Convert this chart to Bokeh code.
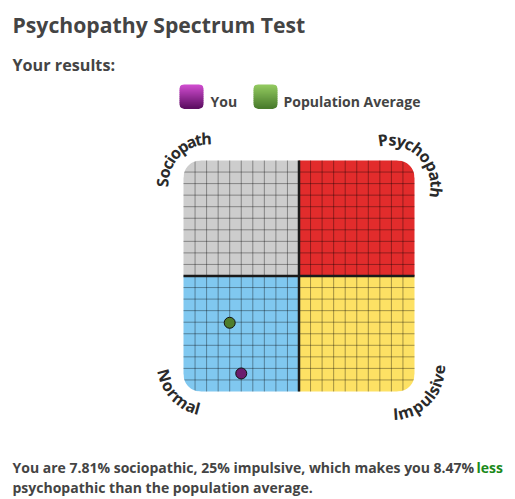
import math
from bokeh.plotting import figure
from bokeh.models import Range1d
from bokeh.core.properties import value
from bokeh.embed import file_html
from bokeh.resources import INLINE

# ---------------- data ----------------
title_text = "Psychopathy Spectrum Test"
subtitle_text = "Your results:"
quadrant_labels = ["Sociopath", "Psychopath", "Normal", "Impulsive"]
quadrant_colors = ["#cdcdcd", "#e22c2c", "#80c8f0", "#fde164"]
series_names = ["You", "Population Average"]
series_colors = ["#6b1d6e", "#4f7d2c"]
legend_top_colors = [(205, 75, 205), (145, 200, 95)]
legend_bottom_colors = [(95, 15, 100), (75, 125, 45)]
impulsive_pct = [25.0, 20.0]
sociopathic_pct = [7.81, 29.75]
less_pct = 8.47
axis_min, axis_mid, axis_max = 0, 50, 100
cells_per_half = 10

# ---------------- layout ----------------
W, H = 514, 498
PAGE_X0, PAGE_Y0 = 0, 0
PX = 2.31            # pixels per percent
OX, OY = 183, 391    # page position of (0, 0)
FONT = value("Open Sans")


def dx(px):
    return (px - OX) / PX


def dy(py):
    return (OY - py) / PX


p = figure(width=W, height=H,
           x_range=Range1d(dx(PAGE_X0), dx(PAGE_X0 + W)),
           y_range=Range1d(dy(PAGE_Y0 + H), dy(PAGE_Y0)),
           output_backend="svg", toolbar_location=None,
           x_axis_location=None, y_axis_location=None,
           min_border=0, outline_line_color=None)
p.grid.visible = False
p.background_fill_color = "white"
p.border_fill_color = "white"


def corner_mask(cx0, cy0, sx, sy, rc, e):
    ax, ay = cx0 - sx * rc, cy0 - sy * rc
    t1 = 0.0 if sx > 0 else math.pi
    t2 = math.pi / 2 if sy > 0 else -math.pi / 2
    if t2 - t1 > math.pi:
        t2 -= 2 * math.pi
    if t2 - t1 < -math.pi:
        t2 += 2 * math.pi
    xs = [cx0 + sx * e]
    ys = [ay]
    n = 24
    for k in range(n + 1):
        t = t1 + (t2 - t1) * k / n
        xs.append(ax + rc * math.cos(t))
        ys.append(ay + rc * math.sin(t))
    xs += [ax, cx0 + sx * e]
    ys += [cy0 + sy * e, cy0 + sy * e]
    return xs, ys


# quadrants
left = [axis_min, axis_mid, axis_min, axis_mid]
right = [axis_mid, axis_max, axis_mid, axis_max]
bottom = [axis_mid, axis_mid, axis_min, axis_min]
top = [axis_max, axis_max, axis_mid, axis_mid]
p.quad(left=left, right=right, bottom=bottom, top=top,
       fill_color=quadrant_colors, line_color=None)

# grid
step = (axis_mid - axis_min) / cells_per_half
ticks = [axis_min + step * i for i in range(1, 2 * cells_per_half) if i != cells_per_half]
p.multi_line(xs=[[t, t] for t in ticks], ys=[[axis_min, axis_max] for t in ticks],
             line_color="black", line_alpha=0.36, line_width=1)
p.multi_line(xs=[[axis_min, axis_max] for t in ticks], ys=[[t, t] for t in ticks],
             line_color="black", line_alpha=0.36, line_width=1)
p.multi_line(xs=[[axis_mid, axis_mid], [axis_min, axis_max]],
             ys=[[axis_min, axis_max], [axis_mid, axis_mid]],
             line_color="#1a1a1a", line_width=2.5)

# rounded outer corners
rc = 17 / PX
mxs, mys = [], []
for (cx0, cy0, sx, sy) in [(axis_min, axis_max, -1, 1), (axis_max, axis_max, 1, 1),
                           (axis_min, axis_min, -1, -1), (axis_max, axis_min, 1, -1)]:
    a, b = corner_mask(cx0, cy0, sx, sy, rc, 1.5 / PX)
    mxs.append(a)
    mys.append(b)
p.patches(xs=mxs, ys=mys, fill_color="white", line_color=None)

# points
p.scatter(x=impulsive_pct[::-1], y=sociopathic_pct[::-1], size=11,
          fill_color=series_colors[::-1], line_color="#111111", line_width=1)

# ---------------- texts ----------------
def txt(x, y, s, size, color="#444444", style="bold", align="left", baseline="alphabetic"):
    p.text(x=[dx(x)], y=[dy(y)], text=[s], text_font=FONT, text_font_size=size,
           text_font_style=style, text_color=color, text_align=align,
           text_baseline=baseline)


txt(12, 24, title_text, "21.2px")
txt(12, 64, subtitle_text, "16.2px")

# legend
leg_x = [179, 253]
leg_text_x = [210, 283]
sq = 24
nb = 12
for i, name in enumerate(series_names):
    c0, c1 = legend_top_colors[i], legend_bottom_colors[i]
    bl, br, bt, bb, cols = [], [], [], [], []
    for k in range(nb):
        f = k / (nb - 1)
        col = tuple(int(round(c0[j] + (c1[j] - c0[j]) * f)) for j in range(3))
        cols.append("#%02x%02x%02x" % col)
        bl.append(dx(leg_x[i]))
        br.append(dx(leg_x[i] + sq))
        bt.append(dy(84 + k * sq / nb))
        bb.append(dy(84 + (k + 1) * sq / nb + 0.4))
    p.quad(left=bl, right=br, top=bt, bottom=bb, fill_color=cols, line_color=None)
    lx, rx, ty, by = dx(leg_x[i]), dx(leg_x[i] + sq), dy(84), dy(84 + sq)
    mxs, mys = [], []
    for (cx0, cy0, sx, sy) in [(lx, ty, -1, 1), (rx, ty, 1, 1), (lx, by, -1, -1), (rx, by, 1, -1)]:
        a, b = corner_mask(cx0, cy0, sx, sy, 4 / PX, 1 / PX)
        mxs.append(a)
        mys.append(b)
    p.patches(xs=mxs, ys=mys, fill_color="white", line_color=None)
    txt(leg_text_x[i], 101, name, "14px")

# curved quadrant labels
CW = {"S": 1096, "o": 1237, "c": 975, "i": 518, "p": 1255, "a": 1139, "t": 723,
      "h": 1257, "P": 1235, "s": 977, "y": 1028, "N": 1567, "r": 836, "m": 1905,
      "l": 518, "I": 586, "u": 1257, "v": 1026, "e": 1149}
arc_specs = [  # page centre x, y, radius px, first angle, last angle, outward
    (208, 184, 46, 177.5, 92.5, True),
    (389, 186, 47, 98.0, -7.5, True),
    (209, 363, 46.7, 195.0, 255.0, False),
    (392, 367, 46.5, 274.0, 357.5, False),
]
for label, (cx, cy, r, a0, a1, outward) in zip(quadrant_labels, arc_specs):
    widths = [CW.get(ch, 1100) for ch in label]
    centers = []
    acc = 0
    for w in widths:
        centers.append(acc + w / 2)
        acc += w
    s0, s1 = centers[0], centers[-1]
    xs, ys, angs = [], [], []
    for ch, s in zip(label, centers):
        phi = math.radians(a0 + (s - s0) / (s1 - s0) * (a1 - a0))
        xs.append(dx(cx + r * math.cos(phi)))
        ys.append(dy(cy - r * math.sin(phi)))
        angs.append(phi - math.pi / 2 if outward else phi + math.pi / 2)
    p.text(x=xs, y=ys, text=list(label), angle=angs, text_font=FONT,
           text_font_size="16px", text_font_style="bold", text_color="#2a2a2a",
           text_align="center", text_baseline="middle")

# result sentence
line1 = (f"You are {sociopathic_pct[0]:.2f}% sociopathic, {impulsive_pct[0]:.0f}% impulsive, "
         f"which makes you {less_pct:.2f}%")
txt(12, 467, line1, "14px")
txt(476, 467, "less", "14px", color="#1b8a1b")
txt(12, 487, "psychopathic than the population average.", "14px")

open("out.html", "w").write(file_html(p, INLINE))
